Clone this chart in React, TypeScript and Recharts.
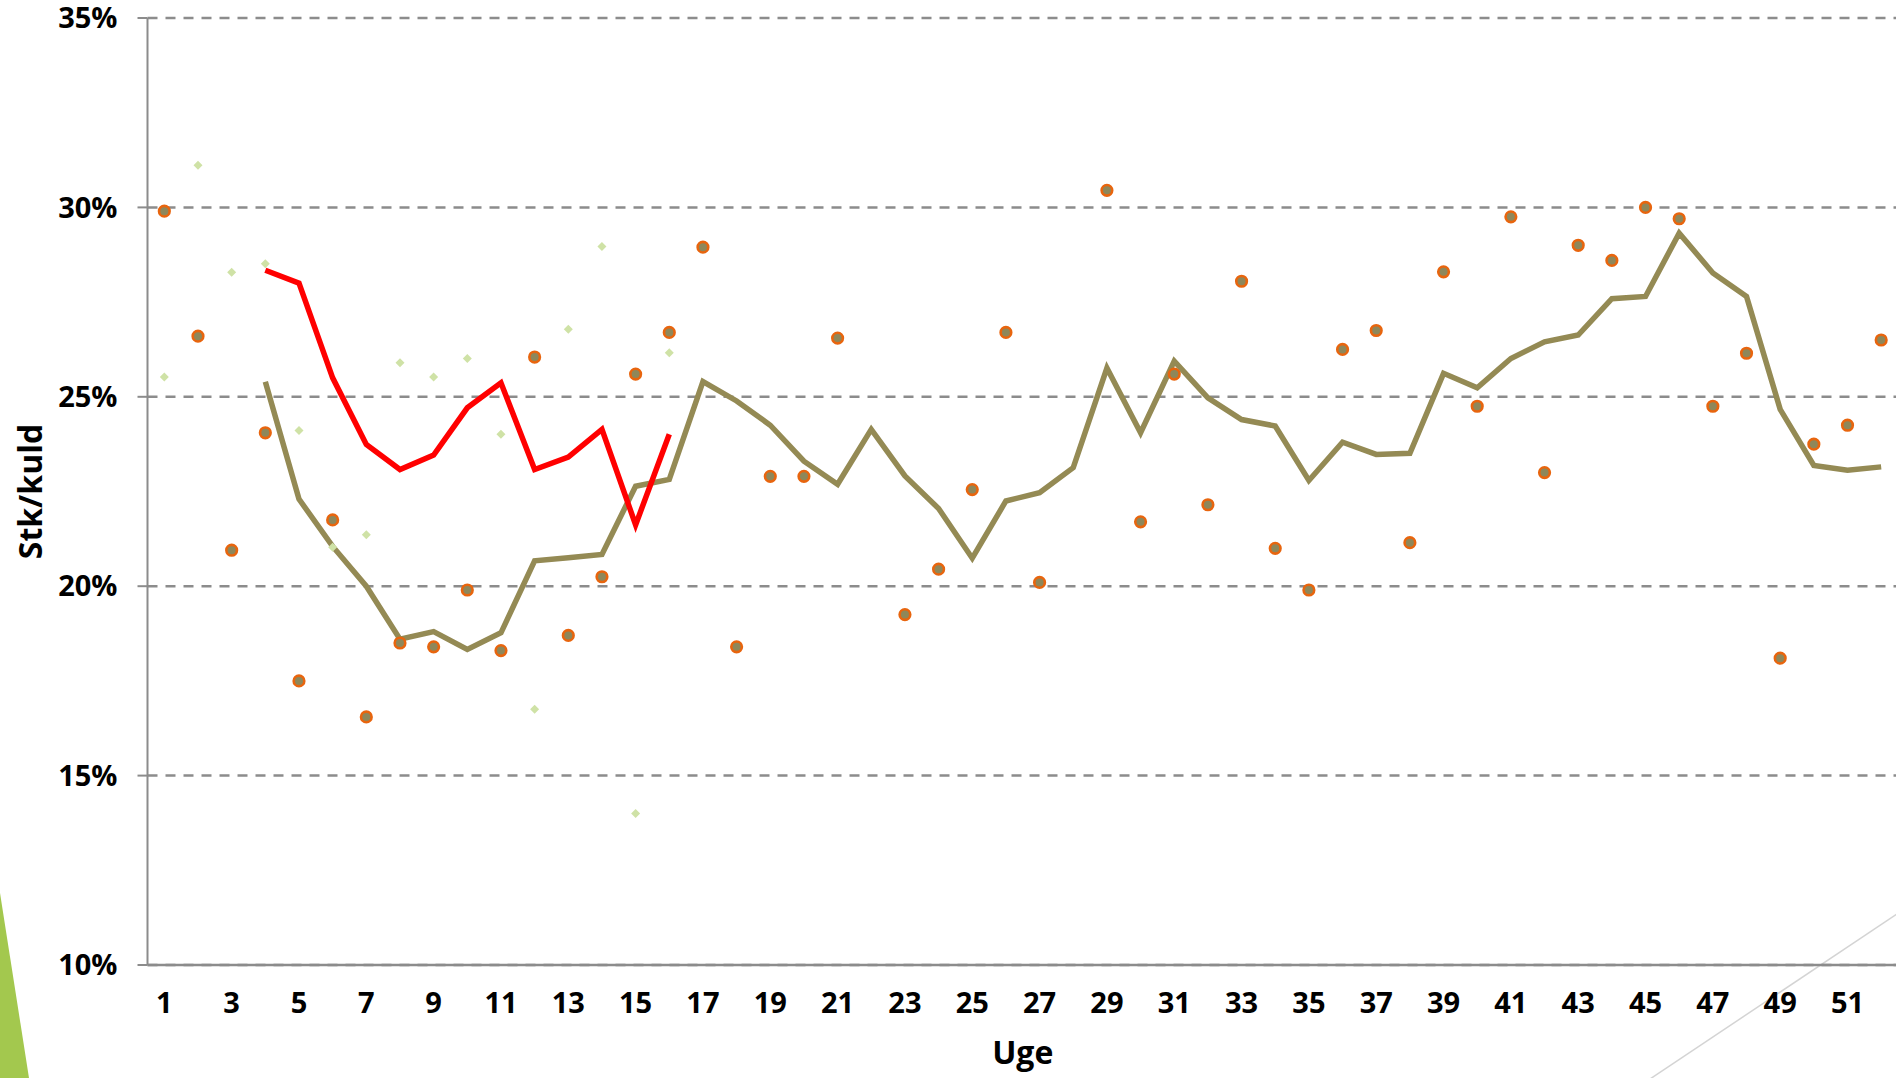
import { ComposedChart, Line, XAxis, YAxis, CartesianGrid, Label } from 'recharts';

// uge-numre
const uger = [
  1, 2, 3, 4, 5, 6, 7, 8, 9, 10, 11, 12, 13, 14, 15, 16, 17, 18, 19, 20, 21, 22, 23, 24, 25, 26,
  27, 28, 29, 30, 31, 32, 33, 34, 35, 36, 37, 38, 39, 40, 41, 42, 43, 44, 45, 46, 47, 48, 49, 50, 51, 52,
];

// ugetal (orange punkter)
const ugeTal = [
  29.9, 26.6, 20.95, 24.05, 17.5, 21.75, 16.55, 18.5, 18.4, 19.9, 18.3, 26.05, 18.7, 20.25, 25.6, 26.7,
  28.95, 18.4, 22.9, 22.9, 26.55, null, 19.25, 20.45, 22.55, 26.7, 20.1, null, 30.45, 21.7, 25.6, 22.15,
  28.05, 21.0, 19.9, 26.25, 26.75, 21.15, 28.3, 24.75, 29.75, 23.0, 29.0, 28.6, 30.0, 29.7, 24.75, 26.15,
  18.1, 23.75, 24.25, 26.5,
];

// glidende gennemsnit (oliven linje)
const glidende = [
  null, null, null, 25.4, 22.3, 21.05, 20.0, 18.6, 18.8, 18.33, 18.77, 20.67, 20.75, 20.84, 22.64, 22.82,
  25.4, 24.89, 24.25, 23.3, 22.69, 24.14, 22.91, 22.05, 20.74, 22.25, 22.47, 23.13, 25.76, 24.05, 25.94, 24.97,
  24.4, 24.23, 22.79, 23.8, 23.48, 23.51, 25.62, 25.24, 26.01, 26.45, 26.63, 27.59, 27.65, 29.32, 28.27, 27.65,
  24.67, 23.19, 23.06, 23.15,
];

// i aar (roed linje)
const iAar = [
  null, null, null, 28.34, 28.0, 25.5, 23.74, 23.08, 23.46, 24.71, 25.37, 23.08, 23.41, 24.14, 21.62, 24.01,
];

// sidste aar (lysegroenne punkter)
const sidsteAar = [
  25.52, 31.11, 28.29, 28.51, 24.11, 21.03, 21.36, 25.9, 25.52, 26.01, 24.01, 16.75, 26.78, 28.97, 14.0, 26.16,
];

const yTicks = [10, 15, 20, 25, 30, 35];

const data = uger.map((uge, i) => ({
  uge,
  punkt: ugeTal[i] ?? null,
  snit: glidende[i] ?? null,
  roed: iAar[i] ?? null,
  groen: sidsteAar[i] ?? null,
}));

const font = "'Open Sans', sans-serif";
const grey = '#8c8c8c';

const diamond = (p: any) => {
  const { cx, cy, index } = p;
  if (typeof cy !== 'number' || isNaN(cy)) return <g key={'d' + index} />;
  const s = 4.5;
  return (
    <polygon
      key={'d' + index}
      points={`${cx},${cy - s} ${cx + s},${cy} ${cx},${cy + s} ${cx - s},${cy}`}
      fill="#CFE2A6"
    />
  );
};

const circle = (p: any) => {
  const { cx, cy, index } = p;
  if (typeof cy !== 'number' || isNaN(cy)) return <g key={'c' + index} />;
  return <circle key={'c' + index} cx={cx} cy={cy} r={5.3} fill="#8E875A" stroke="#E8650E" strokeWidth={2.6} />;
};

export default function App() {
  return (
    <div style={{ position: 'fixed', left: 0, top: 0, width: 1896, height: 1078, overflow: 'hidden', background: '#fff' }}>
      <svg width={1896} height={1078} style={{ position: 'absolute', left: 0, top: 0 }}>
        <polygon points="0,893 29,1078 0,1078" fill="#A3C84E" />
        <line x1={1650} y1={1079} x2={1897} y2={914} stroke="#D4D4D4" strokeWidth={1.5} />
      </svg>
      <div style={{ position: 'absolute', left: 0, top: 0 }}>
        <ComposedChart width={1898} height={1078} data={data} margin={{ top: 18, right: 0, bottom: 0, left: 0 }}>
          <CartesianGrid vertical={false} stroke={grey} strokeWidth={2.5} strokeDasharray="10 8" />
          <XAxis
            dataKey="uge"
            scale="band"
            interval={1}
            height={113}
            tickLine={false}
            tickSize={0}
            tickMargin={27}
            axisLine={{ stroke: grey, strokeWidth: 2.5 }}
            tick={{ fill: '#000', fontSize: 29, fontWeight: 700, fontFamily: font }}
          >
            <Label value="Uge" position="insideBottom" offset={14} fill="#000" fontSize={32} fontWeight={700} fontFamily={font} />
          </XAxis>
          <YAxis
            type="number"
            domain={[10, 35]}
            ticks={yTicks}
            allowDataOverflow
            width={147.5}
            tickSize={10}
            tickMargin={20}
            tickFormatter={(v: number) => `${v}%`}
            axisLine={{ stroke: grey, strokeWidth: 2 }}
            tickLine={{ stroke: grey, strokeWidth: 2 }}
            tick={{ fill: '#000', fontSize: 29, fontWeight: 700, fontFamily: font }}
          >
            <Label
              content={(p: any) => {
                const vb = p.viewBox;
                const cx = vb.x + 29;
                const cy = vb.y + vb.height / 2;
                return (
                  <text
                    x={cx}
                    y={cy}
                    transform={`rotate(-90 ${cx} ${cy})`}
                    textAnchor="middle"
                    dominantBaseline="central"
                    fill="#000"
                    fontSize={32}
                    fontWeight={700}
                    fontFamily={font}
                  >
                    Stk/kuld
                  </text>
                );
              }}
            />
          </YAxis>
          <Line dataKey="groen" stroke="none" dot={diamond} activeDot={false} isAnimationActive={false} />
          <Line dataKey="punkt" stroke="none" dot={circle} activeDot={false} isAnimationActive={false} />
          <Line dataKey="snit" stroke="#948A54" strokeWidth={5.5} dot={false} activeDot={false} isAnimationActive={false} />
          <Line dataKey="roed" stroke="#FF0000" strokeWidth={5.5} dot={false} activeDot={false} isAnimationActive={false} />
        </ComposedChart>
      </div>
    </div>
  );
}
